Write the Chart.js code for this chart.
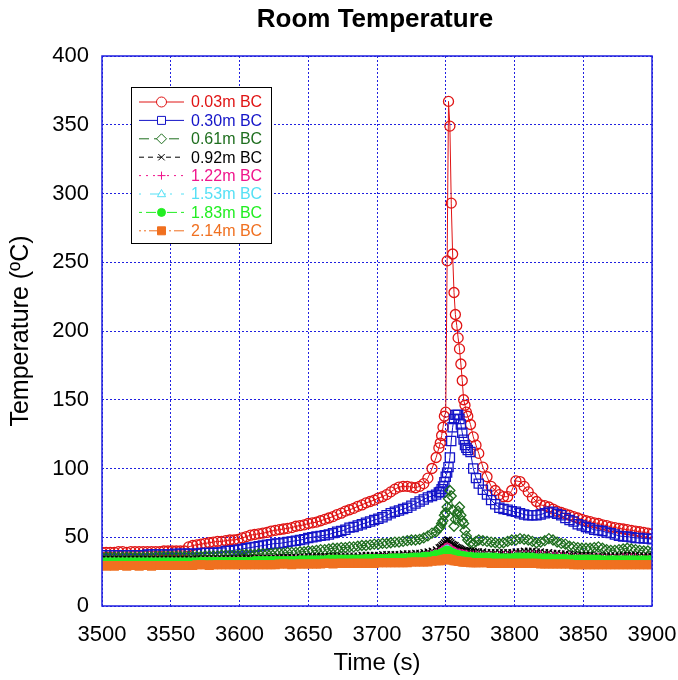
<!DOCTYPE html>
<html><head><meta charset="utf-8">
<script src="https://cdn.jsdelivr.net/npm/chart.js@4.4.1/dist/chart.umd.min.js"></script>
<style>html,body{margin:0;padding:0;background:#fff;}#wrap{width:678px;height:680px;}</style>
</head><body><div id="wrap"><canvas id="c" width="678" height="680"></canvas></div>
<script>
const chartTitle = 'Room Temperature';
const xTitle = 'Time (s)';
const yTitle = 'Temperature (ºC)';
const seriesNames = ['0.03m BC','0.30m BC','0.61m BC','0.92m BC','1.22m BC','1.53m BC','1.83m BC','2.14m BC'];

// sample times (s)
const times = [
3500,3503,3506,3509,3512,3515,3518,3521,3524,3527,
3530,3533,3536,3539,3542,3545,3548,3551,3554,3557,
3560,3563,3566,3569,3572,3575,3578,3581,3584,3587,
3590,3593,3596,3599,3602,3605,3608,3611,3614,3617,
3620,3623,3626,3629,3632,3635,3638,3641,3644,3647,
3650,3653,3656,3659,3662,3665,3668,3671,3674,3677,
3680,3683,3686,3689,3692,3695,3698,3701,3704,3707,
3710,3713,3716,3719,3722,3725,3728,3731,3734,3737,
3740,
3743,3745,3746,3747,3748,3749,3750,3751,3752,3753,3754,3755,3756,3757,3758,3759,3760,3761,3762,3763,3764,3765,3766,3768,3770,3772,
3774,3777,3780,3783,3786,3789,3792,3795,3798,3801,
3804,3807,3810,3813,3816,3819,3822,3825,3828,3831,
3834,3837,3840,3843,3846,3849,3852,3855,3858,3861,
3864,3867,3870,3873,3876,3879,3882,3885,3888,3891,
3894,3897,3900];

const t003 = [
39,39,39,39,39.5,39.5,39,39.5,39.5,39.5,
39.5,39.5,39.5,39.5,39.5,40,40,40,40,40,
40,43,44,44.5,45,45.5,46,46.5,47,47,
47.5,48,48,48.5,49.5,50.5,51.5,52,52.5,53,
53.5,54.5,55,55.5,56,56.5,57,58,58.5,59,
60,60.5,61,62,63,64,65,66.5,67.5,69,
70,71,72.5,73.5,75,76,77,78.5,79.5,81,
83,85,86.5,87,87,86.5,86,87,89,93,
100,
108,115,118.5,124,130,138,141,251,367,349,293,256,228,212,204,195,187,176,164,150,146,141,138,132,123,117,
111,101,94,87,84,81,79.5,79.5,84,91,
90.5,87,83,79,76,73.5,73,72,70.5,69,
68,67,66,65,64,63,62,61.3,60.5,60,
59,58.5,57.5,57,56.5,56,55.5,55,54.5,54,
53.5,53,52.5];

const t030 = [
37,37,37,37,37,37,37,37,37,37,
37,37.5,37.5,37.5,37.5,37.5,37.5,37.5,38,38,
38,38,38,38,38.5,38.5,38.5,38.5,39,39,
40,40,40.5,41,41.5,42,42.5,43,43.5,44,
44.5,45,45.5,45.5,46,46.5,47,47.5,48,48.5,
49.5,50,50.5,51,51.5,52,53,54,54.5,55.5,
57,57.5,58.5,59.5,60.5,61.5,62.5,63.5,64.5,66,
67.5,68.5,69.5,70.5,71.5,73,74.5,76,77.5,79,
80,
81,82.5,83,85,87,90,94,97,101,108,120,130,136,139,139,139,136,132,126,121,117,115,113.5,112,100,93,
89,84.5,81,77,74,71.5,70.5,70,69,68.5,
67.5,66.5,66,66,66,66.5,67.5,68.5,68,67,
66,64,62.5,61.5,59.5,58.5,57.5,56.5,55.5,55,
54.5,53.5,53,52,51,50.5,50.5,50,49.5,49.5,
49,49,48.5];

const t061 = [
35.5,35.5,35.5,35.5,35.5,35.5,35.5,35.5,35.5,35.5,
35.5,35.5,35.5,36,36,36,36,36,36,36,
36,36,36,36,36,36.5,36.5,36.5,36.5,37,
37,37,37,37,37.5,37.5,37.5,37.5,38,38,
38,38,38.5,38.5,38.5,39,39,39,39.5,39.5,
40,40,40.5,41,41,41.5,42,42,42.5,42.5,
43,43,43.5,44,44,44.5,45,45,45.5,45.5,
46,46.5,46.5,47,47.5,48,48,48.5,49.5,51,
53,
54,56.5,57.5,60,62,66,68,72,78,84,80,70,58,63,67,69,72,66,62,60,55,51,48,46,45.5,47,
48,47.5,47,46.5,46,45.5,46,47,48,48,
49,48.5,48,47,46,46.5,47.5,49,48,46.5,
45.5,45,43.5,43,42.5,42,42,42,42.5,43,
42,41,40.5,40.5,41,41.5,42,41.5,41,40.5,
40,40,39.5];

const t092 = [
34,34,34,34,34,34,34,34,34,34,
34,34,34,34,34,34,34,34,34,34,
34,34,34.5,34.5,34.5,34.5,34.5,34.5,34.5,34.5,
34.5,34.5,34.5,34.5,35,35,35,35,35,35,
35,35,35,35.5,35.5,35.5,35.5,35.5,35.5,35.5,
36,36,36,36,36,36,36.5,36.5,36.5,36.5,
36.5,36.5,36.5,37,37,37,37,37,37.5,37.5,
37.5,37.5,37.5,38,38,38,38.5,38.5,39,39.5,
40,
41,42.5,43,44,45,46,47,48,48,47,46,45,44.5,44,43,42.5,42,41.5,41,40.5,40.5,40,40,40,40,39.5,
39.5,39.5,39,39,39,39,39,39,39,39.5,
39.5,40,40,40,39.5,39.5,39,39,38.5,38.5,
38,38,37.5,37.5,37,37,37,37,36.5,36.5,
36.5,36.5,36.5,36.5,36.5,37,37,37,37,36.5,
36.5,36.5,36.5];

const t122 = [
33,33,33,33,33,33,33,33,33,33,
33,33,33,33,33,33,33,33,33,33,
33,33,33,33,33,33.5,33.5,33.5,33.5,33.5,
33.5,33.5,33.5,33.5,33.5,33.5,33.5,34,34,34,
34,34,34,34,34,34,34,34,34.5,34.5,
34.5,34.5,34.5,34.5,34.5,35,35,35,35,35,
35,35,35,35,35.5,35.5,35.5,35.5,35.5,35.5,
36,36,36,36,36,36.5,36.5,36.5,37,37.5,
38,
39,39.5,40,41,41.5,42.5,43,43.5,43,42.5,42,41,40.5,40,39.5,39,39,38.5,38.5,38,38,38,37.5,37.5,37.5,37.5,
37,37,37,37,37,37,37,37,37.5,37.5,
37.5,37.5,37.5,37.5,37.5,37.5,37,37,36.5,36.5,
36.5,36,36,35.5,35.5,35.5,35.5,35.5,35.5,35.5,
35,35,35,35,35,35.5,35.5,35.5,35.5,35,
35,35,35];

const t153 = [
31.5,31.5,31.5,31.5,31.5,31.5,31.5,31.5,31.5,31.5,
31.5,31.5,31.5,31.5,31.5,31.5,31.5,31.5,31.5,31.5,
31.5,31.5,31.5,31.5,32,32,32,32,32,32,
32,32,32,32,32,32,32,32,32.5,32.5,
32.5,32.5,32.5,32.5,32.5,32.5,32.5,32.5,33,33,
33,33,33,33,33,33,33,33.5,33.5,33.5,
33.5,33.5,33.5,33.5,33.5,34,34,34,34,34,
34,34,34.5,34.5,34.5,34.5,35,35,35.5,35.5,
36,
37,37.5,38,38.5,39,40,40.5,41,40.5,40,39,38.5,38,37.5,37,37,36.5,36.5,36,36,36,35.5,35.5,35.5,35,35,
35,35,35,35,34.5,34.5,34.5,34.5,34.5,35,
35,35,35,35,34.5,34.5,34,34,34,33.5,
33.5,33.5,33,33,33,33,33,33,33,32.5,
32.5,32.5,32.5,32.5,32.5,32.5,32.5,32,32,32,
32,32,32];

const t183 = [
32,32,32,32,32,32,32,32,32,32,
32,32,32,32,32,32,32,32,32,32,
32,32,32,32,32.5,32.5,32.5,32.5,32.5,32.5,
32.5,32.5,32.5,32.5,32.5,32.5,32.5,33,33,33,
33,33,33,33,33,33,33,33,33.5,33.5,
33.5,33.5,33.5,33.5,33.5,34,34,34,34,34,
34,34,34,34,34.5,34.5,34.5,34.5,34.5,34.5,
35,35,35,35,35,35.5,35.5,35.5,36,36,
36.5,
37.5,37.5,38,38.5,39,39.5,40,40.5,40,39.5,39,38.5,38,37.5,37.5,37,37,36.5,36.5,36.5,36,36,36,36,35.5,35.5,
35.5,35.5,35.5,35.5,35.5,35,35,35,35,35.5,
35.5,35.5,35.5,35.5,35,35,35,35,34.5,34.5,
34.5,34.5,34,34,34,34,34,34,34,34,
33.5,33.5,33.5,33.5,33.5,33.5,33.5,33.5,33.5,33.5,
33.5,33.5,33.5];

const t214 = [
29.5,29,29.5,29,29.5,29.5,29,29.5,29.5,29,
29.5,29.5,29,29.5,29.5,29.5,29.5,29.5,29.5,29.5,
29.5,29.5,29.5,30,30,30,29.5,30,30,30,
30,30,30,30,30,30,30,30,30,30,
30,30,30,30.5,30.5,30.5,30,30.5,30.5,30.5,
30.5,30.5,30.5,30.5,31,31,30.5,31,31,31,
31,31,31,31,31,31,31,31.5,31.5,31.5,
31.5,31.5,31.5,31.5,31.5,32,32,32,32,32,
32.5,
33,33,33,33.5,33.5,34,34,34.5,34,34,33.5,33.5,33,33,33,32.5,32.5,32.5,32,32,32,32,32,31.5,31.5,31.5,
31.5,31.5,31.5,31,31,31,31,31,31,31,
31,31,31,31,31,30.5,30.5,30.5,30.5,30.5,
30.5,30.5,30.5,30,30,30,30,30,30,30,
30,30,30,30,30,30,30,30,30,30,
30,30,30];

const seriesValues = [t003, t030, t061, t092, t122, t153, t183, t214];

const xMin = 3500, xMax = 3900, xStep = 50;
const yMin = 0, yMax = 400, yStep = 50;

// styles (not data)
const styles = [
  {color:'#e01414', style:'circle',   r:5,   fill:false, dash:[]},
  {color:'#1414c8', style:'rect',     r:6.5, fill:false, dash:[]},
  {color:'#1e6e1e', style:'rectRot',  r:5,   fill:false, dash:[10,5]},
  {color:'#000000', style:'crossRot', r:4.5, fill:false, dash:[5,4]},
  {color:'#f0148c', style:'cross',    r:4,   fill:false, dash:[2,5]},
  {color:'#55e0f5', style:'triangle', r:4.5, fill:false, dash:[2,9,16,4]},
  {color:'#22ee22', style:'circle',   r:4,   fill:true,  dash:[3,4,10,4]},
  {color:'#f07020', style:'rect',     r:5.5, fill:true,  dash:[2,3,2,3,12,3]}
];

const GRID = '#2020e0';
const FONT = "'Liberation Sans', Arial, Helvetica, sans-serif";

const datasets = seriesNames.map((name, i) => ({
  label: name,
  data: times.map((t, k) => ({x: t, y: seriesValues[i][k]})),
  borderColor: styles[i].color,
  backgroundColor: styles[i].color,
  borderWidth: 1,
  borderDash: styles[i].dash,
  pointStyle: styles[i].style,
  pointRadius: styles[i].r,
  pointHoverRadius: styles[i].r,
  pointBorderWidth: 1.3,
  pointBorderColor: styles[i].color,
  pointBackgroundColor: styles[i].fill ? styles[i].color : 'rgba(0,0,0,0)',
  tension: 0,
  order: seriesNames.length - i
}));

function drawMarker(ctx, st, x, y) {
  const r = Math.min(st.r, 5);
  ctx.save();
  ctx.setLineDash([]);
  ctx.lineWidth = 1;
  ctx.strokeStyle = st.color;
  ctx.fillStyle = st.fill ? st.color : '#ffffff';
  ctx.beginPath();
  switch (st.style) {
    case 'circle': ctx.arc(x, y, r, 0, Math.PI*2); ctx.fill(); ctx.stroke(); break;
    case 'rect': { const s = r*0.8; ctx.rect(x-s, y-s, 2*s, 2*s); ctx.fill(); ctx.stroke(); break; }
    case 'rectRot': ctx.moveTo(x, y-r); ctx.lineTo(x+r, y); ctx.lineTo(x, y+r); ctx.lineTo(x-r, y); ctx.closePath(); ctx.fill(); ctx.stroke(); break;
    case 'triangle': ctx.moveTo(x, y-r); ctx.lineTo(x+r*0.9, y+r*0.6); ctx.lineTo(x-r*0.9, y+r*0.6); ctx.closePath(); ctx.fill(); ctx.stroke(); break;
    case 'crossRot': { const s = r*Math.SQRT1_2; ctx.moveTo(x-s,y-s); ctx.lineTo(x+s,y+s); ctx.moveTo(x+s,y-s); ctx.lineTo(x-s,y+s); ctx.stroke(); break; }
    case 'cross': ctx.moveTo(x-r,y); ctx.lineTo(x+r,y); ctx.moveTo(x,y-r); ctx.lineTo(x,y+r); ctx.stroke(); break;
  }
  ctx.restore();
}

const framePlugin = {
  id: 'frame',
  afterDraw(chart) {
    const {ctx, chartArea: a} = chart;
    ctx.save();
    ctx.strokeStyle = GRID; ctx.lineWidth = 1.5; ctx.setLineDash([]);
    ctx.strokeRect(a.left, a.top, a.right - a.left, a.bottom - a.top);
    ctx.fillStyle = '#000'; ctx.font = "bold 26px " + FONT;
    ctx.textAlign = 'center'; ctx.textBaseline = 'middle';
    ctx.fillText(chartTitle, (a.left + a.right)/2 - 2, 20);
    const lx = 131, ly = 87, lw = 140, lh = 156;
    ctx.fillStyle = '#fff'; ctx.fillRect(lx, ly, lw, lh);
    ctx.strokeStyle = '#000'; ctx.lineWidth = 1; ctx.strokeRect(lx+0.5, ly+0.5, lw, lh);
    ctx.font = "16px " + FONT; ctx.textAlign = 'left'; ctx.textBaseline = 'middle';
    seriesNames.forEach((name, i) => {
      const st = styles[i];
      const y = 102 + i*18.4;
      ctx.save();
      ctx.strokeStyle = st.color; ctx.lineWidth = 1; ctx.setLineDash(st.dash);
      ctx.beginPath(); ctx.moveTo(139, y); ctx.lineTo(184, y); ctx.stroke();
      ctx.restore();
      drawMarker(ctx, st, 161.5, y);
      ctx.fillStyle = st.color;
      ctx.fillText(name, 191, y + 1);
    });
    ctx.restore();
  }
};

new Chart(document.getElementById('c'), {
  type: 'line',
  data: { datasets },
  plugins: [framePlugin],
  options: {
    responsive: false,
    animation: false,
    devicePixelRatio: 1,
    layout: { padding: { top: 56, right: 26, left: 0, bottom: 0 } },
    plugins: { legend: { display: false }, tooltip: { enabled: false }, title: { display: false } },
    scales: {
      x: {
        type: 'linear', min: xMin, max: xMax,
        ticks: { stepSize: xStep, color: '#000', font: { family: FONT, size: 22 }, padding: 16, maxRotation: 0,
                 callback: v => String(v) },
        grid: { color: GRID, lineWidth: 1, drawTicks: false },
        border: { display: false, dash: [2, 2] },
        title: { display: true, text: xTitle, color: '#000', font: { family: FONT, size: 24 }, padding: { top: 0, bottom: 2 } },
        afterFit(scale) { scale.height = 74; scale.paddingLeft = 0; scale.paddingRight = 0; }
      },
      y: {
        min: yMin, max: yMax,
        ticks: { stepSize: yStep, color: '#000', font: { family: FONT, size: 22 }, padding: 13,
                 callback: v => String(v) },
        grid: { color: GRID, lineWidth: 1, drawTicks: false },
        border: { display: false, dash: [2, 2] },
        title: { display: true, text: yTitle, color: '#000', font: { family: FONT, size: 25 }, padding: { top: 6, bottom: 0 } },
        afterFit(scale) { scale.width = 102; scale.paddingTop = 0; scale.paddingBottom = 0; }
      }
    }
  }
});
</script>
</body></html>
